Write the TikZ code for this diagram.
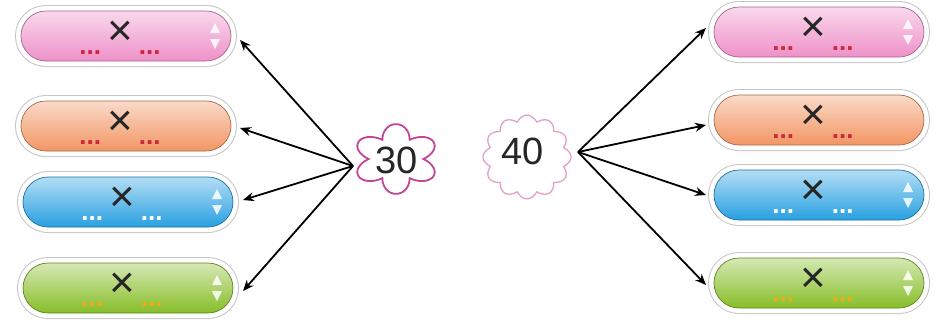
\documentclass[tikz,border=0pt]{standalone}
\usepackage{fontspec}
\setmainfont{Liberation Sans}
\usetikzlibrary{arrows.meta,calc}
\definecolor{cpink}{RGB}{238,145,200}
\definecolor{corange}{RGB}{242,150,100}
\definecolor{cblue}{RGB}{40,160,225}
\definecolor{cgreen}{RGB}{135,190,40}
\definecolor{dred}{RGB}{205,40,60}
\definecolor{dyel}{RGB}{240,170,20}
\definecolor{flow}{RGB}{195,70,150}
\definecolor{cloudc}{RGB}{230,160,200}
\tikzset{
  box/.style={minimum width=210pt, minimum height=50pt, rounded corners=25pt,
    draw=#1!70!black, line width=0.7pt, top color=#1!35!white, bottom color=#1,
    inner sep=0pt, outer sep=0pt,
    preaction={draw=gray!45, line width=12pt},
    preaction={draw=white, line width=10pt}},
  lbl/.style={font=\fontsize{44}{44}\selectfont, text=black!85},
  arr/.style={-{Stealth[length=11pt,width=9pt]}, line width=1.8pt, black},
  tri/.style={fill=white, opacity=0.85},
  num/.style={font=\fontsize{38}{38}\selectfont, text=black!85, inner sep=0pt}
}
\newcommand{\mulblank}[1]{{\color{#1}\fontsize{26}{26}\selectfont\raisebox{-9pt}{\textbf{...}}}\hspace{6pt}×\hspace{6pt}{\color{#1}\fontsize{26}{26}\selectfont\raisebox{-9pt}{\textbf{...}}}}
\begin{document}
\begin{tikzpicture}[x=1pt,y=-1pt]
\useasboundingbox (0,0) rectangle (940,327);
\fill[white] (0,0) rectangle (940,327);
% left boxes
\node[box=cpink] (L1) at (126,36) {};
\node[box=corange] (L2) at (126,126) {};
\node[box=cblue] (L3) at (128,202) {};
\node[box=cgreen] (L4) at (128,288) {};
% right boxes
\node[box=cpink] (R1) at (819,32) {};
\node[box=corange] (R2) at (819,120) {};
\node[box=cblue] (R3) at (819,195) {};
\node[box=cgreen] (R4) at (819,283) {};
% labels
\node[lbl] (tL1) at ([xshift=-6pt,yshift=-2pt]L1) {\mulblank{dred}};
\node[lbl] (tL2) at ([xshift=-6pt,yshift=-2pt]L2) {\mulblank{dred}};
\node[lbl] (tL3) at ([xshift=-6pt,yshift=-2pt]L3) {\mulblank{white}};
\node[lbl] (tL4) at ([xshift=-6pt,yshift=-2pt]L4) {\mulblank{dyel}};
\node[lbl] (tR1) at ([xshift=-6pt,yshift=-2pt]R1) {\mulblank{dred}};
\node[lbl] (tR2) at ([xshift=-6pt,yshift=-2pt]R2) {\mulblank{dred}};
\node[lbl] (tR3) at ([xshift=-6pt,yshift=-2pt]R3) {\mulblank{white}};
\node[lbl] (tR4) at ([xshift=-6pt,yshift=-2pt]R4) {\mulblank{dyel}};
% up/down indicators
\foreach \b in {L1,L3,L4,R1,R3,R4}{
  \fill[tri] ($(\b.east)+(-21,-3)$) -- ($(\b.east)+(-11,-3)$) -- ($(\b.east)+(-16,-13)$) -- cycle;
  \fill[tri] ($(\b.east)+(-21,3)$) -- ($(\b.east)+(-11,3)$) -- ($(\b.east)+(-16,13)$) -- cycle;
}
% flower 30
\draw[flow, line width=1.8pt, fill=white]
  plot[domain=0:360, samples=241, smooth]
  ({396 + 1.05*(26+15*abs(cos(3*\x+90)))*cos(\x)}, {159 + 0.85*(26+15*abs(cos(3*\x+90)))*sin(\x)}) -- cycle;
\node[num] (f30) at (397,160) {30};
% cloud 40
\draw[cloudc, line width=1.3pt, fill=white]
  plot[domain=0:360, samples=361, smooth]
  ({527 + 1.0*(38+6*abs(cos(6*\x)))*cos(\x)}, {157 + 0.95*(38+6*abs(cos(6*\x)))*sin(\x)}) -- cycle;
\node[num] (f40) at (523,151) {40};
% arrow sources
\coordinate (s30) at (353,166);
\coordinate (s40) at (578,152);
\draw[arr] (s30) -- ([xshift=9pt,yshift=-4pt]L1.east);
\draw[arr] (s30) -- ([xshift=9pt,yshift=-2pt]L2.east);
\draw[arr] (s30) -- ([xshift=10pt,yshift=2pt]L3.east);
\draw[arr] (s30) -- ([xshift=10pt,yshift=-3pt]L4.east);
\draw[arr] (s40) -- ([xshift=-8pt,yshift=4pt]R1.west);
\draw[arr] (s40) -- ([xshift=-8pt,yshift=-5pt]R2.west);
\draw[arr] (s40) -- ([xshift=-8pt,yshift=0pt]R3.west);
\draw[arr] (s40) -- ([xshift=-8pt,yshift=-2pt]R4.west);
\end{tikzpicture}
\end{document}
